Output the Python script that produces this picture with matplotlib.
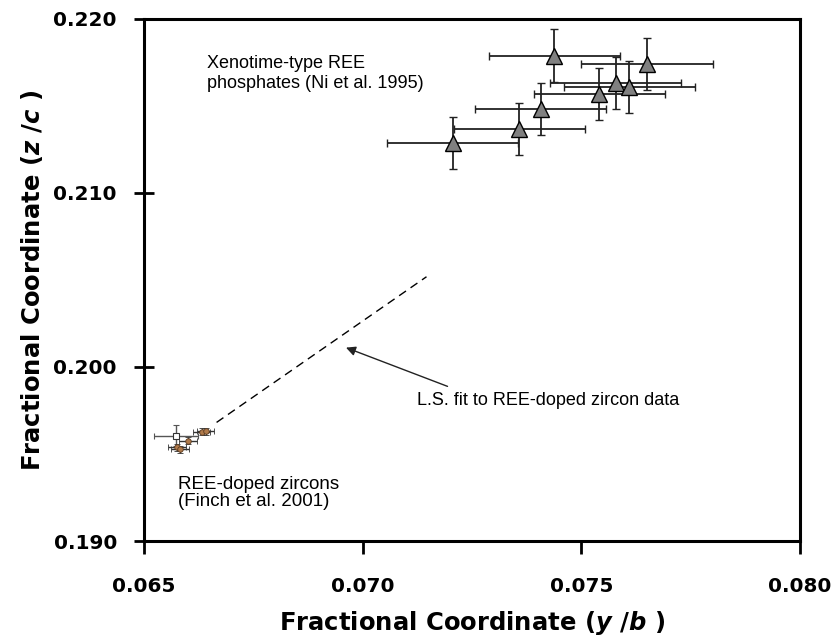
import matplotlib
matplotlib.use("Agg")
import numpy as np
import matplotlib.pyplot as plt

plt.rcParams['font.family'] = ['Liberation Sans', 'DejaVu Sans']
plt.rcParams['mathtext.fontset'] = 'custom'
plt.rcParams['mathtext.it'] = 'DejaVu Sans:bold:italic'
plt.rcParams['mathtext.rm'] = 'DejaVu Sans:bold'

# xenotime-type REE phosphates (Ni et al. 1995)
xeno_y = [0.07206, 0.07358, 0.07407, 0.07438, 0.07541, 0.07579, 0.07610, 0.07650]
xeno_z = [0.21289, 0.21366, 0.21483, 0.21790, 0.21569, 0.21634, 0.21607, 0.21740]
xeno_yerr = 0.0015
xeno_zerr = 0.0015

# REE-doped zircons (Finch et al. 2001)
zirc_y = [0.06573, 0.06576, 0.06582, 0.06601, 0.06632, 0.06641]
zirc_z = [0.19605, 0.19539, 0.19527, 0.19577, 0.19628, 0.19632]
zirc_yerr = [0.0005, 0.0002, 0.0002, 0.0002, 0.0002, 0.0002]
zirc_zerr = [0.0006, 0.0002, 0.0002, 0.0002, 0.0002, 0.0002]

# least squares fit line to zircon data
fit_range = [0.06666, 0.07146]
fit_slope = 1.744
fit_icept = 0.08056

xticks = [0.065, 0.070, 0.075, 0.080]
yticks = [0.190, 0.200, 0.210, 0.220]

fig = plt.figure(figsize=(8.39, 6.41), dpi=100)
ax = fig.add_axes([0.1716, 0.156, 0.7819, 0.8144])

ax.errorbar(xeno_y, xeno_z, xerr=xeno_yerr, yerr=xeno_zerr, fmt='^',
            ms=12, mfc='#808080', mec='black', mew=1.0,
            ecolor='#222222', elinewidth=1.3, capsize=3, capthick=1.3, zorder=3)

# zircon points: first one open square, rest small brownish symbols
ax.errorbar(zirc_y[:1], zirc_z[:1], xerr=zirc_yerr[:1], yerr=zirc_zerr[:1], fmt='s',
            ms=5, mfc='white', mec='#333333', mew=0.8,
            ecolor='#555555', elinewidth=1.0, capsize=2.5, zorder=3)
ax.errorbar(zirc_y[1:], zirc_z[1:], xerr=zirc_yerr[1:], yerr=zirc_zerr[1:], fmt='o',
            ms=4, mfc='#b07a4a', mec='#5a3a20', mew=0.6,
            ecolor='#333333', elinewidth=1.0, capsize=2.5, zorder=3)

fx = np.array(fit_range)
ax.plot(fx, fit_icept + fit_slope * fx, color='black', ls=(0, (6, 4)), lw=1.0)

ax.annotate('', xy=(0.06956, 0.20117), xytext=(0.07200, 0.19883),
            arrowprops=dict(arrowstyle='-|>', color='#222222', lw=1.0,
                            mutation_scale=14))
ax.text(0.07124, 0.19810, 'L.S. fit to REE-doped zircon data', fontsize=13,
        va='center', ha='left')
ax.text(0.06645, 0.21795, 'Xenotime-type REE\nphosphates (Ni et al. 1995)',
        fontsize=13, va='top', ha='left', linespacing=1.25)
ax.text(0.06578, 0.19375, 'REE-doped zircons\n(Finch et al. 2001)',
        fontsize=13.5, va='top', ha='left', linespacing=1.0)

ax.set_xlim(0.065, 0.080)
ax.set_ylim(0.190, 0.220)
ax.set_xticks(xticks)
ax.set_yticks(yticks)
ax.set_xticklabels([f'{v:.3f}' for v in xticks])
ax.set_yticklabels([f'{v:.3f}' for v in yticks])
ax.tick_params(axis='x', direction='out', length=9, width=2, pad=17)
ax.tick_params(axis='y', direction='inout', length=15, width=2, pad=12)
for lab in ax.get_xticklabels() + ax.get_yticklabels():
    lab.set_fontweight('bold')
    lab.set_fontfamily('DejaVu Sans')
    lab.set_fontsize(14.4)
for s in ax.spines.values():
    s.set_linewidth(2.2)

ax.set_xlabel('Fractional Coordinate ($y$ /$b$ )', fontsize=17.5, fontweight='bold',
              family='DejaVu Sans', labelpad=9)
ax.set_ylabel('Fractional Coordinate ($z$ /$c$ )', fontsize=17.5, fontweight='bold',
              family='DejaVu Sans', labelpad=6)

fig.savefig('out.png', dpi=100)
